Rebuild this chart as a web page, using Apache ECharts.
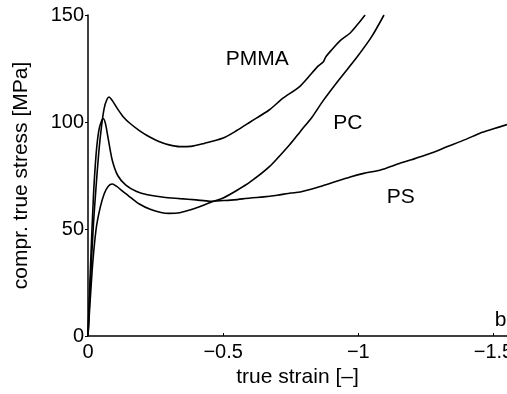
<!DOCTYPE html>
<html>
<head>
<meta charset="utf-8">
<script src="https://cdn.jsdelivr.net/npm/echarts@6/dist/echarts.min.js"></script>
<style>
html,body{margin:0;padding:0;background:#fff;}
#c{width:507px;height:394px;}
</style>
</head>
<body>
<div id="c"></div>
<script>
// Data (true strain is negative: compression)
const pmmaStrain = [0, -0.01, -0.02, -0.03, -0.04, -0.05, -0.06, -0.07, -0.078, -0.09, -0.11, -0.13, -0.156, -0.19, -0.22, -0.26, -0.3, -0.34, -0.38, -0.43, -0.5, -0.55, -0.6, -0.67, -0.72, -0.785, -0.85, -0.87, -0.88, -0.9, -0.933, -0.97, -1.0, -1.025];
const pmmaStress = [0, 28, 52, 70, 86, 98, 106.5, 110.5, 111.7, 110, 106, 102.5, 99.3, 96, 93.6, 91, 89.3, 88.5, 88.6, 90, 92.5, 96, 100, 105.6, 111, 116.8, 126, 128, 130.5, 133.5, 138, 141.6, 146, 150];

const pcStrain = [0, -0.015, -0.03, -0.045, -0.06, -0.075, -0.09, -0.105, -0.13, -0.16, -0.19, -0.23, -0.27, -0.3, -0.34, -0.38, -0.41, -0.45, -0.5, -0.55, -0.6, -0.67, -0.75, -0.785, -0.83, -0.87, -0.93, -0.996, -1.05, -1.095];
const pcStress = [0, 30, 50, 60, 66.5, 70, 71, 70, 67.5, 64.5, 61.7, 59.2, 57.7, 57.3, 57.6, 59, 60.3, 62.3, 64.5, 68, 72, 79, 90, 95.5, 102.5, 110, 120, 130.5, 140, 150];

const psStrain = [0, -0.01, -0.02, -0.03, -0.04, -0.05, -0.057, -0.065, -0.075, -0.09, -0.11, -0.14, -0.18, -0.22, -0.28, -0.34, -0.4, -0.45, -0.5, -0.54, -0.6, -0.65, -0.7, -0.75, -0.785, -0.85, -0.9, -0.97, -1.02, -1.08, -1.156, -1.2, -1.26, -1.33, -1.4, -1.45, -1.5, -1.55];
const psStress = [0, 35, 65, 85, 96, 100.5, 101.5, 99, 92, 82, 75, 70.5, 67.5, 66, 64.8, 64.2, 63.6, 63.0, 63.3, 63.6, 64.5, 65, 65.8, 66.8, 67.3, 69.5, 71.5, 74.3, 76, 77.5, 80.8, 82.5, 85, 88.5, 92, 94.8, 96.8, 98.8];

const xTicks = [0, -0.5, -1, -1.5];
const yTicks = [0, 50, 100, 150];

const labels = [
  {text: 'PMMA', x: -0.626, y: 129.3},
  {text: 'PC', x: -0.961, y: 99.3},
  {text: 'PS', x: -1.157, y: 64.7},
  {text: 'b', x: -1.526, y: 7.5}
];

const zip = (a, b) => a.map((v, i) => [v, b[i]]);
const fontFam = '"Liberation Sans", Arial, Helvetica, sans-serif';
const chart = echarts.init(document.getElementById('c'));
const lineStyle = {color: '#000', width: 1.6};
const mkSeries = (name, xs, ys) => ({
  name, type: 'line', data: zip(xs, ys), showSymbol: false, symbol: 'none',
  smooth: 0.25, lineStyle, clip: true, animation: false
});

chart.setOption({
  animation: false,
  backgroundColor: '#fff',
  grid: {left: 88, right: 0, top: 15, bottom: 58, containLabel: false, outerBoundsMode: 'none'},
  xAxis: {
    type: 'value', min: -1.55, max: 0, inverse: true,
    name: 'true strain [–]', nameLocation: 'middle', nameGap: 30,
    nameTextStyle: {fontSize: 21, color: '#000', fontFamily: fontFam},
    axisLine: {show: true, onZero: false, lineStyle: {color: '#000', width: 1.5}},
    axisTick: {show: true, inside: true, length: 3, customValues: xTicks, lineStyle: {color: '#000'}},
    axisLabel: {customValues: xTicks, margin: 6, fontSize: 20, color: '#000', fontFamily: fontFam,
      formatter: v => String(v).replace('-', '\u2212')},
    splitLine: {show: false}
  },
  yAxis: {
    type: 'value', min: 0, max: 150, interval: 50,
    name: 'compr. true stress [MPa]', nameLocation: 'middle', nameGap: 56,
    nameTextStyle: {fontSize: 21, color: '#000', fontFamily: fontFam},
    axisLine: {show: true, onZero: false, lineStyle: {color: '#000', width: 1.5}},
    axisTick: {show: true, inside: false, length: 3, lineStyle: {color: '#000'}},
    axisLabel: {margin: 4, fontSize: 20, color: '#000', fontFamily: fontFam,
      customValues: yTicks},
    splitLine: {show: false}
  },
  series: [
    mkSeries('PMMA', pmmaStrain, pmmaStress),
    mkSeries('PC', pcStrain, pcStress),
    mkSeries('PS', psStrain, psStress)
  ]
});

const gfx = labels.map(l => {
  const p = chart.convertToPixel({gridIndex: 0}, [l.x, l.y]);
  return {type: 'text', x: p[0], y: p[1], style: {text: l.text, fill: '#000',
    font: '21px ' + fontFam, align: 'center', verticalAlign: 'middle'}};
});
chart.setOption({graphic: gfx});
</script>
</body>
</html>
